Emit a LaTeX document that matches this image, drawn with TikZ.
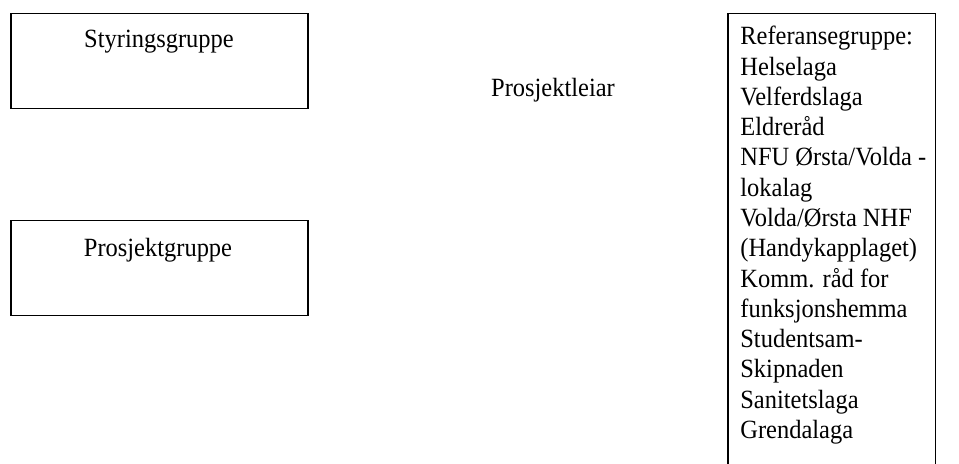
\documentclass[tikz,border=0pt]{standalone}
\usepackage{fontspec}
\setmainfont[FakeStretch=0.93]{Liberation Serif}
\begin{document}
\begin{tikzpicture}[x=0.532pt,y=-0.532pt,
  box/.style={draw, line width=0.8pt, rectangle, anchor=north west, inner sep=0pt},
  txt/.style={font=\fontsize{14}{16.1}\selectfont, inner sep=0pt}]
\useasboundingbox (0,0) rectangle (959,464);

% left column: two group boxes with their titles near the top
\node[box, minimum width=158pt, minimum height=50.5pt] (styr) at (10,13) {};
\node[txt, anchor=base] (styrtxt) at (159,48) {Styringsgruppe};

\node[box, minimum width=158pt, minimum height=50.5pt] (prosj) at (10,220) {};
\node[txt, anchor=base] (prosjtxt) at (158,257) {Prosjektgruppe};

% project leader, free text in the middle
\node[txt, anchor=base] (leiar) at (553,97) {Prosjektleiar};

% reference group box, running off the bottom edge
\node[box, minimum width=110.5pt, minimum height=245pt] (ref) at (727,13) {};
\node[txt, anchor=north west, align=left] (reftxt) at (740,26) {Referansegruppe:\\
Helselaga\\
Velferdslaga\\
Eldreråd\\
NFU Ørsta/Volda -\\
lokalag\\
Volda/Ørsta NHF\\
(Handykapplaget)\\
Komm. råd for\\
funksjonshemma\\
Studentsam-\\
Skipnaden\\
Sanitetslaga\\
Grendalaga};
\end{tikzpicture}
\end{document}
